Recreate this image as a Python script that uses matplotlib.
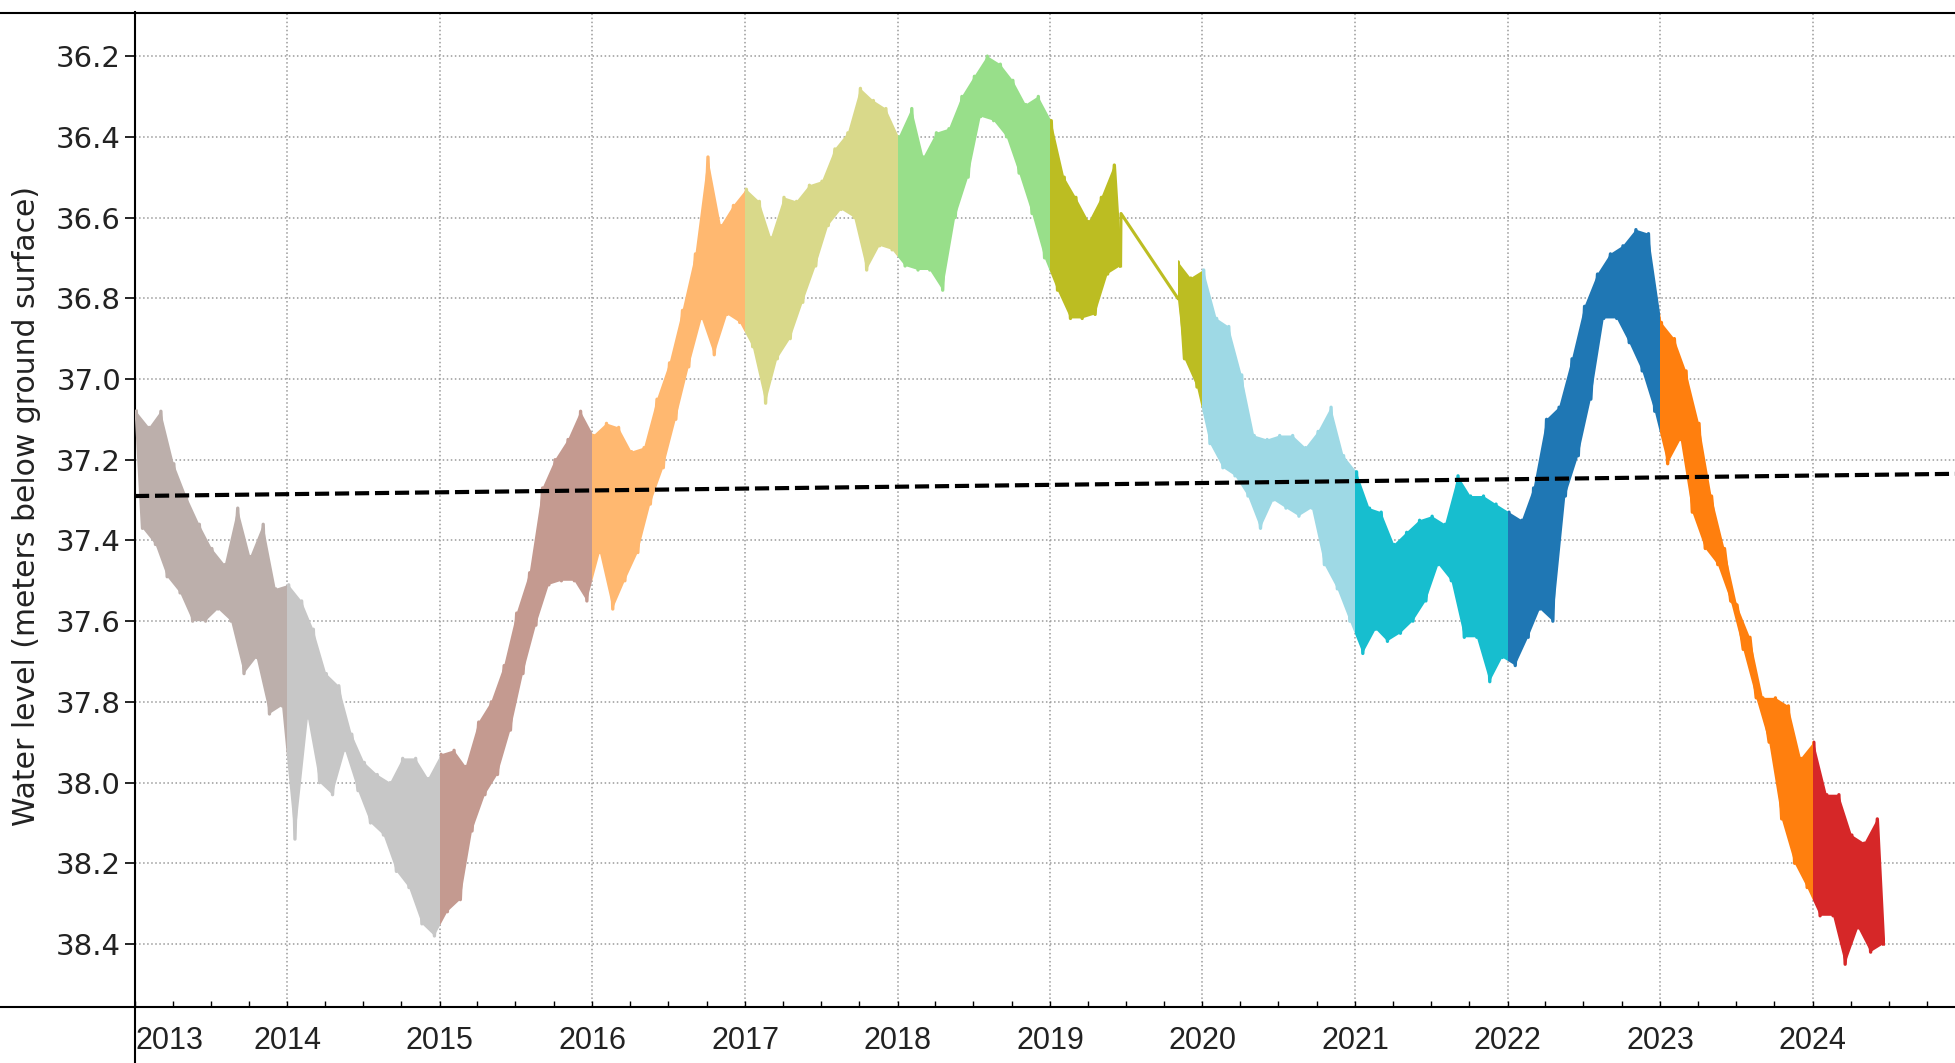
import datetime as dt
import matplotlib
matplotlib.use("Agg")
import matplotlib.pyplot as plt
import matplotlib.dates as mdates
from matplotlib.lines import Line2D
from matplotlib.patches import Rectangle

# year colours (one colour per calendar year)
year_colors = {
    2013: "#bcafab", 2014: "#c7c7c7", 2015: "#c49a90", 2016: "#ffb870",
    2017: "#d9d98a", 2018: "#98df8a", 2019: "#bcbd22", 2020: "#9ed9e5",
    2021: "#17becf", 2022: "#1f77b4", 2023: "#ff7f0e", 2024: "#d62728",
}

# monthly envelope: shallowest (top) and deepest (bottom) level
top_2013 = [37.08, 37.12, 37.08, 37.21, 37.29, 37.36, 37.42, 37.46, 37.32, 37.44, 37.36, 37.52]
bot_2013 = [37.37, 37.41, 37.49, 37.53, 37.60, 37.60, 37.57, 37.60, 37.73, 37.69, 37.83, 37.81]
top_2014 = [37.51, 37.55, 37.62, 37.73, 37.76, 37.88, 37.95, 37.98, 38.00, 37.94, 37.94, 37.99]
bot_2014 = [38.14, 37.84, 38.00, 38.03, 37.92, 38.02, 38.10, 38.13, 38.22, 38.26, 38.35, 38.38]
top_2015 = [37.93, 37.92, 37.96, 37.85, 37.80, 37.71, 37.58, 37.48, 37.27, 37.20, 37.15, 37.08]
bot_2015 = [38.32, 38.29, 38.12, 38.03, 37.98, 37.87, 37.73, 37.61, 37.51, 37.50, 37.50, 37.55]
top_2016 = [37.14, 37.11, 37.12, 37.18, 37.17, 37.05, 36.96, 36.83, 36.69, 36.45, 36.62, 36.57]
bot_2016 = [37.43, 37.57, 37.50, 37.43, 37.31, 37.22, 37.10, 36.97, 36.85, 36.94, 36.84, 36.86]
top_2017 = [36.53, 36.56, 36.65, 36.55, 36.56, 36.52, 36.51, 36.43, 36.39, 36.28, 36.31, 36.33]
bot_2017 = [36.92, 37.06, 36.95, 36.90, 36.81, 36.72, 36.62, 36.58, 36.60, 36.73, 36.67, 36.68]
top_2018 = [36.40, 36.33, 36.45, 36.39, 36.38, 36.30, 36.25, 36.20, 36.22, 36.26, 36.32, 36.30]
bot_2018 = [36.72, 36.73, 36.73, 36.78, 36.60, 36.50, 36.35, 36.36, 36.40, 36.49, 36.59, 36.70]
top_2019a = [36.36, 36.50, 36.55, 36.61, 36.55, 36.47]
bot_2019a = [36.78, 36.85, 36.85, 36.84, 36.74, 36.72]
top_2019b = [36.71, 36.75]
bot_2019b = [36.95, 37.02]
top_2020 = [36.73, 36.85, 36.87, 36.99, 37.14, 37.15, 37.14, 37.14, 37.17, 37.13, 37.07, 37.19]
bot_2020 = [37.16, 37.22, 37.24, 37.29, 37.37, 37.30, 37.32, 37.34, 37.32, 37.46, 37.52, 37.60]
top_2021 = [37.23, 37.32, 37.33, 37.41, 37.38, 37.35, 37.34, 37.36, 37.24, 37.29, 37.29, 37.31]
bot_2021 = [37.68, 37.62, 37.65, 37.63, 37.60, 37.55, 37.46, 37.50, 37.64, 37.64, 37.75, 37.69]
top_2022 = [37.33, 37.35, 37.27, 37.10, 37.07, 36.95, 36.82, 36.74, 36.69, 36.67, 36.63, 36.64]
bot_2022 = [37.71, 37.64, 37.57, 37.60, 37.29, 37.19, 37.05, 36.85, 36.85, 36.91, 36.98, 37.08]
top_2023 = [36.86, 36.90, 36.98, 37.11, 37.29, 37.42, 37.56, 37.64, 37.79, 37.79, 37.81, 37.94]
bot_2023 = [37.21, 37.15, 37.33, 37.42, 37.46, 37.55, 37.67, 37.79, 37.90, 38.09, 38.20, 38.26]
top_2024 = [37.90, 38.03, 38.03, 38.13, 38.15, 38.09]
bot_2024 = [38.33, 38.33, 38.45, 38.36, 38.42, 38.40]

# logger gap in 2019 (straight connecting line)
gap_dates = [dt.datetime(2019, 6, 20), dt.datetime(2019, 11, 3)]
gap_values = [36.59, 36.80]

# linear trend (dashed)
trend_dates = [dt.datetime(2013, 1, 1), dt.datetime(2024, 12, 7)]
trend_values = [37.29, 37.235]

yticks = [36.2, 36.4, 36.6, 36.8, 37.0, 37.2, 37.4, 37.6, 37.8, 38.0, 38.2, 38.4]
tick_years = list(range(2013, 2025))


def monthly_piece(year, months, tops, bots, start=None, end=None):
    tx = [dt.datetime(year, m + 1, 4) for m in months]
    bx = [dt.datetime(year, m + 1, 19) for m in months]
    return {"tx": tx, "ty": list(tops), "bx": bx, "by": list(bots),
            "color": year_colors[year],
            "start": start or dt.datetime(year, 1, 1),
            "end": end or dt.datetime(year + 1, 1, 1)}


pieces = []
for yr, tops, bots in [(2013, top_2013, bot_2013), (2014, top_2014, bot_2014),
                       (2015, top_2015, bot_2015), (2016, top_2016, bot_2016),
                       (2017, top_2017, bot_2017), (2018, top_2018, bot_2018)]:
    pieces.append(monthly_piece(yr, range(12), tops, bots))
pieces.append(monthly_piece(2019, range(6), top_2019a, bot_2019a, end=gap_dates[0]))
pieces.append(monthly_piece(2019, [10, 11], top_2019b, bot_2019b, start=gap_dates[1]))
for yr, tops, bots in [(2020, top_2020, bot_2020), (2021, top_2021, bot_2021),
                       (2022, top_2022, bot_2022), (2023, top_2023, bot_2023)]:
    pieces.append(monthly_piece(yr, range(12), tops, bots))
pieces.append(monthly_piece(2024, range(6), top_2024, bot_2024,
                            end=dt.datetime(2024, 6, 22)))

fig = plt.figure(figsize=(19.55, 10.63), dpi=100)
ax = fig.add_axes([135 / 1955, 56 / 1063, 1820 / 1955, (1007 - 12.5) / 1063])

for i, p in enumerate(pieces):
    tx, ty, bx, by = p["tx"][:], p["ty"][:], p["bx"][:], p["by"][:]
    # borrow the neighbouring readings so the band runs up to the year edge
    if i > 0 and pieces[i - 1]["end"] == p["start"]:
        prv = pieces[i - 1]
        tx.insert(0, prv["tx"][-1]); ty.insert(0, prv["ty"][-1])
        bx.insert(0, prv["bx"][-1]); by.insert(0, prv["by"][-1])
    elif p["start"] == gap_dates[1]:
        # band after the gap opens from the end of the connecting line
        tx.insert(0, gap_dates[1]); ty.insert(0, gap_values[1])
        bx.insert(0, gap_dates[1]); by.insert(0, gap_values[1])
    if i + 1 < len(pieces) and pieces[i + 1]["start"] == p["end"]:
        nxt = pieces[i + 1]
        tx.append(nxt["tx"][0]); ty.append(nxt["ty"][0])
        bx.append(nxt["bx"][0]); by.append(nxt["by"][0])
    x0 = mdates.date2num(p["start"])
    x1 = mdates.date2num(p["end"])
    clip = Rectangle((x0, 30), x1 - x0, 20, transform=ax.transData)

    xs_poly = [mdates.date2num(d) for d in tx + bx[::-1]]
    ys_poly = ty + by[::-1]
    for patch in ax.fill(xs_poly, ys_poly, color=p["color"], lw=0, zorder=3):
        patch.set_clip_path(clip)
    # daily swings drawn as a zigzag between the readings
    zx, zy = [], []
    for a, b, c, d in zip(tx, ty, bx, by):
        zx += [a, c]
        zy += [b, d]
    ln, = ax.plot(zx, zy, color=p["color"], lw=2.4, zorder=3)
    ln.set_clip_path(clip)

# straight line across the 2019 logger gap
ax.plot([pieces[6]["bx"][-1]] + gap_dates,
        [pieces[6]["by"][-1]] + gap_values,
        color=year_colors[2019], lw=2.2, zorder=3)

ax.plot(trend_dates, trend_values, color="black", lw=3.0, ls=(0, (3.4, 1.4)), zorder=4)

ax.set_xlim(dt.datetime(2013, 1, 1), dt.datetime(2024, 12, 7))
ax.set_ylim(38.556, 36.092)

ax.set_yticks(yticks)
ax.set_yticklabels([f"{v:.1f}" for v in yticks], fontsize=21,
                   family="DejaVu Sans", color="#222222")
ax.set_xticks([dt.datetime(y, 1, 1) for y in tick_years])
labels = ax.set_xticklabels([str(y) for y in tick_years], fontsize=22,
                            family="Liberation Sans", color="#222222")
labels[0].set_horizontalalignment("left")
ax.xaxis.set_minor_locator(mdates.MonthLocator(bymonth=[4, 7, 10]))

ax.tick_params(axis="y", direction="out", length=7, width=1.2, pad=3)
ax.tick_params(axis="x", which="both", direction="in", length=4, width=1, pad=14)

ax.grid(True, which="major", linestyle=":", color="#9a9a9a", linewidth=1.1)
for s in ["top", "right", "bottom"]:
    ax.spines[s].set_visible(False)
ax.spines["left"].set_linewidth(1.5)

# frame lines that run past the plot area
fig.add_artist(Line2D([0, 1], [1 - 12.5 / 1063] * 2, color="black", lw=1.5))
fig.add_artist(Line2D([0, 1], [56 / 1063] * 2, color="black", lw=1.5))
fig.add_artist(Line2D([135 / 1955] * 2, [0, 56 / 1063], color="black", lw=1.5))

fig.text(27 / 1955, 1 - 506 / 1063, "Water level (meters below ground surface)",
         rotation=90, ha="center", va="center", fontsize=21.5,
         family="DejaVu Sans", color="#222222")

fig.savefig("out.png", dpi=100)
